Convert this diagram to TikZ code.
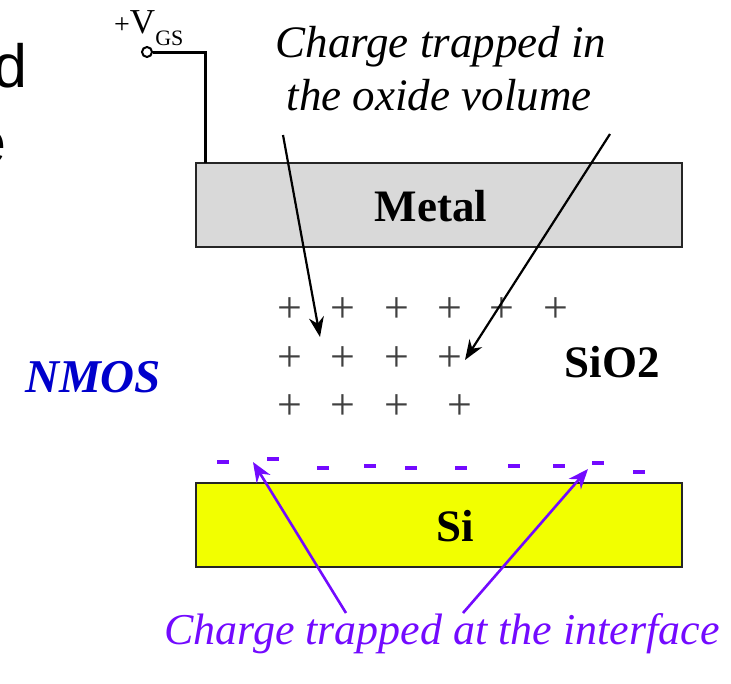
\documentclass[tikz,border=0pt]{standalone}
\usepackage{fontspec}
\setmainfont{Liberation Serif}
\newfontfamily\slidefont{Liberation Sans}
\usetikzlibrary{arrows.meta}
\definecolor{trapviolet}{RGB}{115,10,255}
\definecolor{nmosblue}{RGB}{0,0,204}
\definecolor{metalgray}{RGB}{217,217,217}
\definecolor{siyellow}{RGB}{242,255,0}
\newcommand{\fsz}[1]{\fontsize{#1}{#1}\selectfont}

\begin{document}
\begin{tikzpicture}[x=1pt,y=-1pt,
    layer/.style={draw=black!85,line width=2.2pt,inner sep=0,minimum width=486pt,minimum height=84pt},
    lbl/.style={anchor=base,inner sep=0,font=\bfseries\fsz{45}},
    poscharge/.style={inner sep=0,text=black!75,font=\fsz{44}},
    negcharge/.style={fill=trapviolet,inner sep=0,minimum width=12pt,minimum height=3.5pt},
    wire/.style={line width=3pt},
    ptr/.style={line width=2.2pt,-{Stealth[length=20pt,width=15pt]}},
    ifptr/.style={trapviolet,line width=2.6pt,-{Stealth[length=20pt,width=16pt]}}]
    \useasboundingbox (0,0) rectangle (731,683);

    % cut-off slide text on the left
    \node[anchor=base east,inner sep=0,font=\slidefont\fsz{61}] (cutd) at (27.5,87) {d};
    \node[anchor=base east,inner sep=0,font=\slidefont\fsz{61}] (cute) at (6.6,163) {e};

    % layers
    \node[layer,fill=metalgray] (metal) at (439,205) {};
    \node[layer,fill=siyellow] (si) at (439,525) {};
    \node[lbl] at (431,221) {Metal};
    \node[lbl] at (455,541) {Si};
    \node[lbl] (oxide) at (612,377) {SiO2};
    \node[lbl,text=nmosblue,font=\bfseries\itshape\fsz{47}] (nmos) at (93,392) {NMOS};

    % gate terminal
    \node[circle,draw,line width=2pt,inner sep=0,minimum size=10pt] (term) at (147,52) {};
    \coordinate (tap) at (205,163);
    \draw[wire] (term) -| (tap);
    \node[anchor=base west,inner sep=0] (vgs) at (114,33)
        {\fsz{28}+{\fsz{35}V}\raisebox{-12pt}{\fsz{22}GS}};

    % oxide charges
    \foreach \x [count=\i] in {290,343,397,450,502,556}
        \node[poscharge] (p1\i) at (\x,310) {+};
    \foreach \x [count=\i] in {290,343,397,450}
        \node[poscharge] (p2\i) at (\x,359) {+};
    \foreach \x [count=\i] in {290,343,397,460}
        \node[poscharge] (p3\i) at (\x,407) {+};

    % interface charges
    \foreach \x/\y [count=\i] in {223/462,273/459,323/468,370/466,411/468,461/468,514/466,559/466,598/463,639/472}
        \node[negcharge] (n\i) at (\x,\y) {};

    % captions
    \node[font=\itshape\fsz{45},anchor=base,inner sep=0] (oxtext1) at (441,57) {Charge trapped in};
    \node[font=\itshape\fsz{45},anchor=base,inner sep=0] (oxtext2) at (439,110) {the oxide volume};
    \node[anchor=base,inner sep=0,text=trapviolet,font=\itshape\fsz{44}] (iftext) at (442,644)
        {Charge trapped at the interface};

    \coordinate (ox1) at (283,135);
    \coordinate (ox2) at (610,134);
    \coordinate (hit1) at (320,337);
    \coordinate (hit2) at (465,360);
    \draw[ptr] (ox1) -- (hit1);
    \draw[ptr] (ox2) -- (hit2);

    \coordinate (if1) at (346,613);
    \coordinate (if2) at (463,613);
    \coordinate (hit3) at (253,462);
    \coordinate (hit4) at (588,469);
    \draw[ifptr] (if1) -- (hit3);
    \draw[ifptr] (if2) -- (hit4);
\end{tikzpicture}
\end{document}
